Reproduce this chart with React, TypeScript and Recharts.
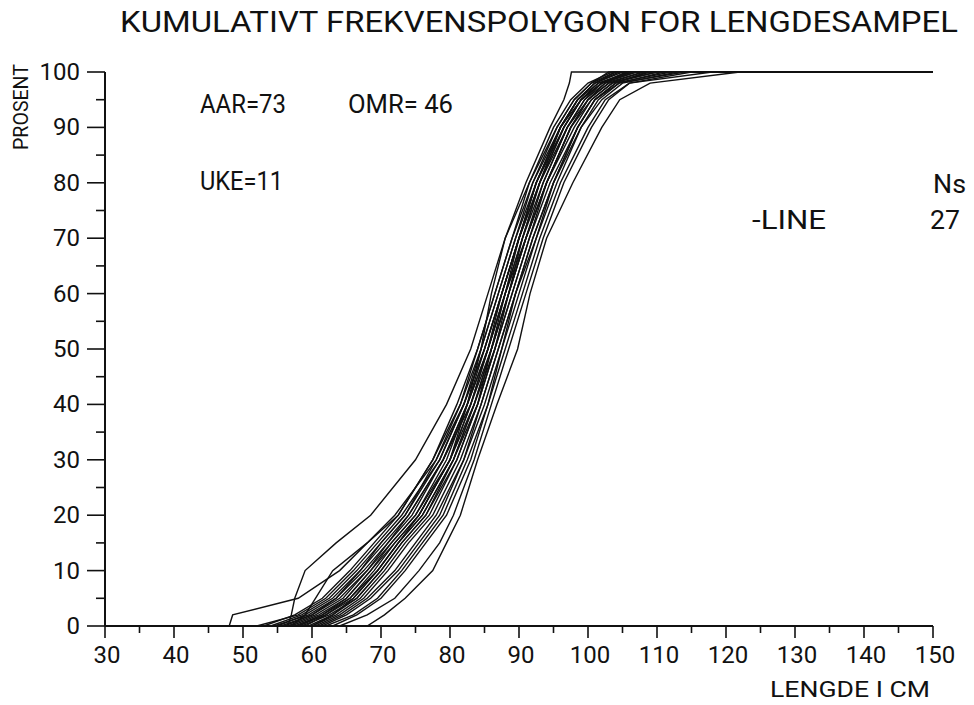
import React from "react";
import { LineChart, Line, XAxis, YAxis } from "recharts";

// cumulative percent levels shared by every sample curve
const pct = [0, 2, 5, 10, 15, 20, 30, 40, 50, 60, 70, 80, 90, 95, 98, 100];

// length (cm) at each percent level, one array per sample (27 samples)
const lenA = [56.5, 57, 57.5, 59, 63.5, 68.5, 75, 79.5, 83, 85.5, 88, 91.5, 95.5, 98, 100.5, 104];
const lenB = [48, 48.5, 58, 64, 68, 72, 78, 82, 85, 87.5, 90, 93, 97, 100, 103, 108];
const lenC = [57, 59, 60.5, 63, 68, 72.5, 77.5, 81, 84, 86.5, 89, 92, 96, 98.5, 101, 105];
const lenD = [60, 63, 66, 69.5, 72.5, 75.5, 80, 82.5, 84.5, 86, 88, 91, 94.5, 96.5, 97.3, 97.6];
const lenE = [68, 70.5, 73.5, 77.5, 79.5, 81.5, 84, 86.8, 89.8, 91.6, 94, 97.8, 102, 104.6, 109, 122];
const lenF = [64, 68, 72, 75.5, 78.5, 80.5, 83.5, 86, 88.5, 91, 93.5, 96.5, 100.5, 103, 106, 115];
const lenG = [55, 59, 63, 67, 70.5, 74, 79, 82.5, 85.5, 88, 90.5, 93, 96.5, 99, 101.5, 106];
const lenH = [58, 62, 65.5, 69, 72, 75.5, 80, 83.5, 86, 88.5, 91, 94, 97.5, 100, 103, 110];
const lenI = [52, 58, 62, 66, 69.5, 73, 78.5, 82, 85, 87.5, 90, 92.5, 96, 98.5, 101, 104.5];
const lenJ = [60, 63.5, 67, 70.5, 73.5, 77, 81, 84, 86.5, 89, 91.5, 94.5, 98.5, 101, 104, 112];
const lenK = [56, 60, 64, 68, 71.5, 75, 80, 83, 85.5, 87.5, 90, 92.5, 96, 99, 102, 107];
const lenL = [61, 64.5, 68, 72, 75, 78, 82, 84.5, 87, 89.5, 92, 95, 99, 102, 105, 113];
const lenM = [54, 58.5, 62.5, 66.5, 70, 73.5, 78.5, 82, 84.5, 87, 89.5, 92, 95.5, 98, 100.5, 103];
const lenN = [59, 62, 66, 69.5, 72.5, 76, 80.5, 83.5, 86.5, 89, 91.5, 94, 97.5, 100.5, 103.5, 109];
const lenO = [57, 61, 65, 68.5, 71.5, 75, 79.5, 82.5, 85, 87.5, 90, 93, 96.5, 99, 102, 106];
const lenP = [62, 66, 69.5, 73, 76, 79, 82.5, 85.5, 88, 90.5, 93, 96, 100, 102.5, 106, 118];
const lenQ = [55.5, 60, 63.5, 67.5, 71, 74.5, 79, 83, 86, 88.5, 90.5, 93.5, 97, 99.5, 102.5, 108];
const lenR = [58.5, 62.5, 66.5, 70, 73, 76.5, 80.5, 84, 86.5, 88.5, 91, 93.5, 97, 99.5, 102, 105.5];
const lenS = [53, 57.5, 61.5, 65.5, 69, 72.5, 77.5, 81.5, 84.5, 87, 89.5, 92.5, 96.5, 99, 102, 107];
const lenT = [60.5, 64, 67.5, 71, 74, 77.5, 81.5, 84.5, 87, 89.5, 92.5, 95.5, 99, 101.5, 104.5, 111];
const lenU = [57.5, 61.5, 65, 68.5, 72, 75.5, 80, 83, 85.5, 88, 90.5, 93, 96, 98.5, 101, 104];
const lenV = [59.5, 63, 66.5, 70, 73, 76.5, 81, 84, 86, 88, 90, 92.5, 96, 98.5, 101.5, 106.5];
const lenW = [56.5, 60.5, 64.5, 68, 71, 74, 79, 82.5, 85.5, 88, 91, 94, 98, 100.5, 103.5, 110];
const lenX = [61.5, 65, 68.5, 72.5, 75.5, 78.5, 82, 85, 87.5, 90, 92.5, 95, 98.5, 101, 104, 108.5];
const lenY = [54.5, 59.5, 63.5, 67, 70, 73.5, 78, 81.5, 84, 86.5, 89, 91.5, 95, 97.5, 100, 103.5];
const lenZ = [58, 61.5, 65.5, 69.5, 72.5, 76, 80.5, 83.5, 86, 88.5, 91, 94, 97.5, 100, 102.5, 106];
const lenAA = [63, 66.5, 70, 73.5, 76.5, 79.5, 83, 85.5, 87.5, 89.5, 92, 95, 98.5, 101, 104.5, 114];

const samples = [
  lenA, lenB, lenC, lenD, lenE, lenF, lenG, lenH, lenI, lenJ, lenK, lenL, lenM, lenN,
  lenO, lenP, lenQ, lenR, lenS, lenT, lenU, lenV, lenW, lenX, lenY, lenZ, lenAA,
];

const xTicks = [30, 35, 40, 45, 50, 55, 60, 65, 70, 75, 80, 85, 90, 95, 100, 105, 110, 115, 120, 125, 130, 135, 140, 145, 150];
const yTicks = [0, 5, 10, 15, 20, 25, 30, 35, 40, 45, 50, 55, 60, 65, 70, 75, 80, 85, 90, 95, 100];

const FONT = "Roboto, 'DejaVu Sans', sans-serif";
const INK = "#111";

const toSeries = (lens: number[]) => [
  { len: 30, pct: 0 },
  ...lens.map((l, i) => ({ len: l, pct: pct[i] })),
  { len: 150, pct: 100 },
];

const XTick = (props: any) => {
  const { x, y, payload } = props;
  const v = payload.value;
  const major = v % 10 === 0;
  return (
    <g>
      <line x1={x} y1={y} x2={x} y2={y + (major ? 12 : 7)} stroke={INK} strokeWidth={1.6} />
      {major && (
        <text x={x + 2} y={y + 37} textAnchor="middle" fontFamily={FONT} fontSize={24} fill={INK}>
          {v}
        </text>
      )}
    </g>
  );
};

const YTick = (props: any) => {
  const { x, y, payload } = props;
  const v = payload.value;
  const major = v % 10 === 0;
  return (
    <g>
      <line x1={x} y1={y} x2={x - (major ? 18 : 9)} y2={y} stroke={INK} strokeWidth={1.6} />
      {major && (
        <text x={x - 25} y={y + 8} textAnchor="end" fontFamily={FONT} fontSize={24} fill={INK}>
          {v}
        </text>
      )}
    </g>
  );
};

export default function App() {
  return (
    <div style={{ position: "absolute", left: 0, top: 0, width: 974, height: 705, background: "#fff" }}>
      <LineChart
        width={974}
        height={705}
        margin={{ top: 72, right: 41, bottom: 39, left: 45 }}
      >
        <XAxis
          type="number"
          dataKey="len"
          domain={[30, 150]}
          ticks={xTicks}
          interval={0}
          allowDataOverflow
          height={40}
          tickSize={0}
          tickMargin={0}
          tickLine={false}
          axisLine={{ stroke: INK, strokeWidth: 2 }}
          tick={<XTick />}
        />
        <YAxis
          type="number"
          dataKey="pct"
          domain={[0, 100]}
          ticks={yTicks}
          interval={0}
          width={60}
          tickSize={0}
          tickMargin={0}
          tickLine={false}
          axisLine={{ stroke: INK, strokeWidth: 2 }}
          tick={<YTick />}
        />
        {samples.map((s, i) => (
          <Line
            key={i}
            data={toSeries(s)}
            dataKey="pct"
            type="linear"
            stroke={INK}
            strokeWidth={1.4}
            dot={false}
            activeDot={false}
            isAnimationActive={false}
          />
        ))}
      </LineChart>
      <svg
        width={974}
        height={705}
        style={{ position: "absolute", left: 0, top: 0, pointerEvents: "none" }}
        fontFamily={FONT}
        fill={INK}
      >
        <text x={120} y={32} fontSize={30} textLength={838} lengthAdjust="spacingAndGlyphs">
          KUMULATIVT FREKVENSPOLYGON FOR LENGDESAMPEL
        </text>
        <text x={28} y={107} fontSize={21} textAnchor="middle" transform="rotate(-90 28 107)" textLength={86} lengthAdjust="spacingAndGlyphs">
          PROSENT
        </text>
        <text x={770} y={697} fontSize={22} textLength={160} lengthAdjust="spacingAndGlyphs">
          LENGDE I CM
        </text>
        <text x={200} y={113} fontSize={25} textLength={86} lengthAdjust="spacingAndGlyphs">AAR=73</text>
        <text x={348} y={113} fontSize={25} textLength={105} lengthAdjust="spacingAndGlyphs">OMR= 46</text>
        <text x={200} y={190} fontSize={25} textLength={83} lengthAdjust="spacingAndGlyphs">UKE=11</text>
        <text x={933} y={193} fontSize={25} textLength={33} lengthAdjust="spacingAndGlyphs">Ns</text>
        <text x={752} y={229} fontSize={25} textLength={74} lengthAdjust="spacingAndGlyphs">-LINE</text>
        <text x={930} y={229} fontSize={25} textLength={30} lengthAdjust="spacingAndGlyphs">27</text>
      </svg>
    </div>
  );
}
